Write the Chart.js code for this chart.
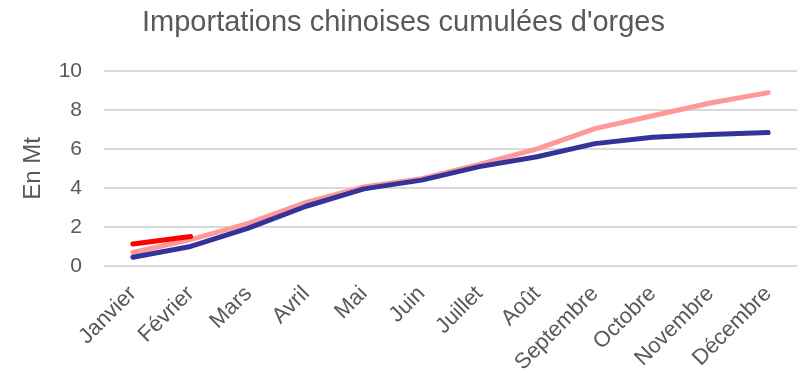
<!DOCTYPE html>
<html>
<head>
<meta charset="utf-8">
<script src="https://cdn.jsdelivr.net/npm/chart.js@4"></script>
<style>
  html, body { margin: 0; padding: 0; background: #fff; }
  #wrap { width: 803px; height: 377px; }
</style>
</head>
<body>
<div id="wrap"><canvas id="chart"></canvas></div>
<script>
// ── DATA ──
const months = ['Janvier', 'Février', 'Mars', 'Avril', 'Mai', 'Juin', 'Juillet',
                'Août', 'Septembre', 'Octobre', 'Novembre', 'Décembre'];
const serieRouge = [1.13, 1.51, null, null, null, null, null, null, null, null, null, null];
const serieRose  = [0.69, 1.35, 2.18, 3.26, 4.05, 4.47, 5.2, 6.0, 7.04, 7.7, 8.35, 8.88];
const serieBleue = [0.45, 1.0, 1.94, 3.06, 3.95, 4.4, 5.09, 5.6, 6.27, 6.6, 6.74, 6.84];
const yTicks     = [0, 2, 4, 6, 8, 10];

const font = 'Liberation Sans, Arial, sans-serif';
const grey = '#595959';

function lineSet(data, color) {
  return {
    data,
    borderColor: color,
    backgroundColor: color,
    borderWidth: 5,
    borderCapStyle: 'round',
    borderJoinStyle: 'round',
    pointRadius: 0,
    tension: 0,
    spanGaps: false,
  };
}

// first dataset is drawn on top: red, then blue, then pink underneath
new Chart(document.getElementById('chart').getContext('2d'), {
  type: 'line',
  data: {
    labels: months,
    datasets: [
      lineSet(serieRouge, '#FF0000'),
      lineSet(serieBleue, '#333399'),
      lineSet(serieRose, '#FF9999'),
    ]
  },
  options: {
    responsive: true,
    maintainAspectRatio: false,
    animation: false,
    layout: { padding: { left: 10, right: 6, top: 0, bottom: 0 } },
    plugins: {
      legend: { display: false },
      tooltip: { enabled: false },
      title: {
        display: true,
        text: "Importations chinoises cumulées d'orges",
        color: grey,
        font: { family: font, size: 29, weight: 'normal' },
        padding: { top: 6, bottom: 30 }
      }
    },
    scales: {
      x: {
        offset: true,
        grid: { display: false },
        border: { display: false },
        ticks: {
          color: grey,
          font: { family: font, size: 22 },
          maxRotation: 45,
          minRotation: 45,
          autoSkip: false,
          padding: 7
        },
        afterFit: axis => { axis.height = 111; }
      },
      y: {
        min: 0,
        max: 10,
        afterBuildTicks: axis => { axis.ticks = yTicks.map(v => ({ value: v })); },
        grid: { color: '#D9D9D9', lineWidth: 2, drawTicks: false },
        border: { display: false },
        ticks: {
          color: grey,
          font: { family: font, size: 21 },
          padding: 22
        },
        title: {
          display: true,
          text: 'En Mt',
          color: grey,
          font: { family: font, size: 24 },
          padding: { top: 9, bottom: 0 }
        },
        afterFit: axis => { axis.width = 94; }
      }
    }
  }
});
</script>
</body>
</html>
